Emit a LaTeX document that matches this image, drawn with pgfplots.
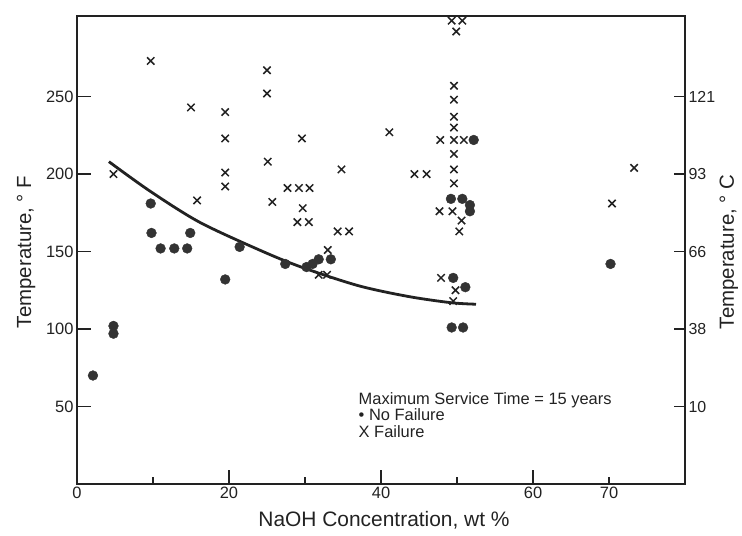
\documentclass[border=0pt]{standalone}
\usepackage{fontspec}
\setmainfont{Liberation Sans}
\usepackage{pgfplots}
\pgfplotsset{compat=1.18}
\definecolor{ink}{HTML}{222222}
\definecolor{dotc}{HTML}{333333}
\begin{document}
\begin{tikzpicture}
\useasboundingbox (0,0) rectangle (742bp,536bp);
\begin{axis}[
  at={(77bp,52bp)}, anchor=south west,
  width=608bp, height=468bp, scale only axis,
  xmin=0, xmax=80, ymin=0, ymax=302,
  axis line style={ink, line width=1.3bp},
  tick align=inside,
  xtick={0,20,40,60}, extra x ticks={70},
  extra x tick style={major tick length=7bp},
  minor xtick={10,30,50}, minor tick length=7bp, major tick length=14bp,
  ytick={50,100,150,200,250},
  xtick pos=bottom, ytick pos=left,
  tick style={ink, line width=1.3bp},
  ticklabel style={font=\fontsize{16.5}{16.5}\selectfont, text=ink},
  /pgf/number format/assume math mode=true,
  xlabel={NaOH Concentration, wt \%},
  xlabel style={at={(axis description cs:0.505,-0.077)}, anchor=center, font=\fontsize{21}{21}\selectfont, text=ink},
  ylabel={Temperature, ° F},
  ylabel style={at={(axis description cs:-0.0836,0.496)}, anchor=center, font=\fontsize{20.5}{20.5}\selectfont, text=ink},
  clip=false,
]
% fitted curve
\addplot[ink, line width=2.8bp, smooth, no marks] coordinates {
(4.2,208) (9.6,189) (16.1,169) (24,151) (29.5,140) (37,128) (43.6,121) (49.2,117) (52.5,116)
};
% failures
\addplot[only marks, mark=x, mark size=5.2bp, ink, mark options={line width=1.5bp}] coordinates {
(4.8,200) (9.7,273) (15,243) (15.8,183)
(19.5,240) (19.5,223) (19.5,201) (19.5,192)
(25,267) (25,252) (25.1,208) (25.7,182)
(27.7,191) (29.2,191) (30.6,191)
(29.6,223) (29.7,178) (29,169) (30.5,169)
(34.8,203) (34.3,163) (35.8,163)
(33,151) (31.8,135) (32.9,135)
(41.1,227) (44.4,200) (46.0,200)
(49.3,299) (50.7,299) (49.9,292)
(49.6,257) (49.6,248) (49.6,237) (49.6,230)
(47.8,222) (49.6,222) (50.9,222)
(49.6,213) (49.6,203) (49.6,194)
(47.7,176) (49.4,176) (50.6,170) (50.3,163)
(47.9,133) (49.8,125) (49.5,118)
(73.3,204) (70.4,181)
};
% no failures
\addplot[only marks, mark=*, mark size=4.9bp, draw=none, mark options={draw=dotc, fill=dotc}] coordinates {
(2.1,70) (4.8,97) (4.8,102)
(9.7,181) (9.8,162) (14.9,162)
(11,152) (12.8,152) (14.5,152)
(19.5,132) (21.4,153)
(27.4,142) (30.2,140) (31.0,142) (31.8,145) (33.4,145)
(52.2,222)
(49.2,184) (50.7,184) (51.7,180) (51.7,176)
(49.5,133) (51.1,127)
(49.3,101) (50.8,101)
(70.2,142)
};
\node[anchor=north west, align=left, inner sep=0pt, text=ink, font=\fontsize{16.5}{16.5}\selectfont]
  at (axis description cs:0.463,0.196)
  {Maximum Service Time = 15 years\\ \textbullet\ No Failure\\ X\ Failure};
\end{axis}
\begin{axis}[
  at={(77bp,52bp)}, anchor=south west,
  width=608bp, height=468bp, scale only axis,
  xmin=0, xmax=80, ymin=0, ymax=302,
  axis y line*=right, axis x line=none,
  axis line style={ink, line width=1.3bp},
  tick align=inside, major tick length=11bp,
  ytick={50,100,150,200,250},
  yticklabels={10,38,66,93,121},
  tick style={ink, line width=1.3bp},
  ticklabel style={font=\fontsize{16}{16}\selectfont, text=ink},
  ylabel={Temperature, ° C},
  ylabel style={at={(axis description cs:1.072,0.496)}, anchor=center, font=\fontsize{20.5}{20.5}\selectfont, text=ink},
]
\addplot[draw=none, forget plot] coordinates {(0,0)};
\end{axis}
\end{tikzpicture}
\end{document}
